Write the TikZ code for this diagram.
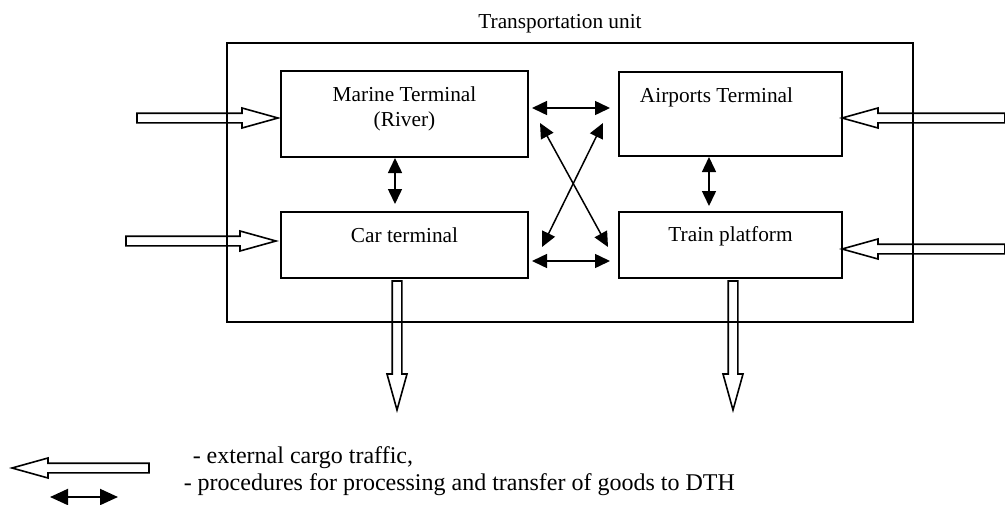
\documentclass[tikz,border=0pt]{standalone}
\usepackage{fontspec}
\setmainfont{Liberation Serif}
\usepackage{tikz}
\usetikzlibrary{calc,arrows.meta}

% wide hollow arrow from #1 to #2 (shaft, then open head)
\newcommand{\cargo}[2]{%
  \draw[cargo] let \p1=(#1), \p2=(#2),
    \n1={veclen(\x2-\x1,\y2-\y1)}, \n2={atan2(\y2-\y1,\x2-\x1)} in
    {[shift={(\p1)},rotate=\n2]
      (0pt,-2.4pt) -- (\n1-18pt,-2.4pt) -- (\n1-18pt,-5pt) -- (\n1,0pt)
      -- (\n1-18pt,5pt) -- (\n1-18pt,2.4pt) -- (0pt,2.4pt) -- cycle};
}

\begin{document}
\begin{tikzpicture}[x=0.5pt,y=-0.5pt,line width=0.75pt,
    font=\fontsize{10.66}{12.5}\selectfont,
    box/.style={draw,inner sep=0pt,outer sep=0pt},
    txt/.style={anchor=base,inner sep=0pt},
    link/.style={{Triangle[length=7.5pt,width=7pt]}-{Triangle[length=7.5pt,width=7pt]}},
    cargo/.style={draw,line width=0.8pt}]
    \useasboundingbox (0,0) rectangle (1005,504);

    % transportation unit and its four terminals
    \node[box,minimum width=343pt,minimum height=139.5pt] (unit) at (570,182.5) {};
    \node[txt] (title) at (560,28) {Transportation unit};
    \node[box,minimum width=123.5pt,minimum height=43pt] (marine) at (404.5,114) {};
    \node[box,minimum width=123.5pt,minimum height=33pt] (car) at (404.5,245) {};
    \node[box,minimum width=111.5pt,minimum height=42pt] (air) at (730.5,114) {};
    \node[box,minimum width=111.5pt,minimum height=33pt] (train) at (730.5,245) {};
    \node[txt] (marinetxt) at (404.5,101) {Marine Terminal};
    \node[txt] (rivertxt) at (404.5,126) {(River)};
    \node[txt] (cartxt) at (404.5,242) {Car terminal};
    \node[txt] (airtxt) at (716.5,102) {Airports Terminal};
    \node[txt] (traintxt) at (730.5,241) {Train platform};

    % transfer between terminals
    \draw[link] ([xshift=-4.75pt,yshift=-0.5pt]marine.south) -- ([xshift=-4.75pt,yshift=4pt]car.north);
    \draw[link] ([xshift=-10.75pt,yshift=-0.5pt]air.south) -- ([xshift=-10.75pt,yshift=3pt]train.north);
    \draw[link] ([xshift=2pt,yshift=3pt]marine.east) -- ([xshift=-4.5pt,yshift=3pt]air.west);
    \draw[link] ([xshift=2pt,yshift=-8pt]car.east) -- ([xshift=-4.5pt,yshift=-8pt]train.west);
    \draw[link] ([xshift=6pt,yshift=-4.5pt]marine.east) -- ([xshift=-5.5pt,yshift=-1pt]train.west);
    \draw[link] ([xshift=-8pt,yshift=-4.5pt]air.west) -- ([xshift=7pt,yshift=-1pt]car.east);

    % external traffic
    \coordinate (inmarine) at (137,118);
    \coordinate (incar) at (126,241);
    \coordinate (inair) at (1005,118);
    \coordinate (intrain) at (1005,249);
    \coordinate (outcar) at (397,410);
    \coordinate (outtrain) at (733,410);
    \cargo{inmarine}{[xshift=-1.5pt,yshift=-2pt]marine.west}
    \cargo{incar}{[xshift=-2.5pt,yshift=2pt]car.west}
    \cargo{inair}{[yshift=-2pt]air.east}
    \cargo{intrain}{[yshift=-2pt]train.east}
    \cargo{[xshift=-3.75pt,yshift=-1.5pt]car.south}{outcar}
    \cargo{[xshift=1.25pt,yshift=-1.5pt]train.south}{outtrain}

    % legend
    \coordinate (legtail) at (149,468);
    \coordinate (legtip) at (12,468);
    \coordinate (legl) at (50,497);
    \coordinate (legr) at (118,497);
    \cargo{legtail}{legtip}
    \draw[link,line width=1pt,{Triangle[length=9pt,width=8pt]}-{Triangle[length=9pt,width=8pt]}] (legl) -- (legr);
    \node[txt,anchor=base west,font=\fontsize{12}{14}\selectfont] (legcargo) at (192,463) {- external cargo traffic,};
    \node[txt,anchor=base west,font=\fontsize{12}{14}\selectfont] (leglink) at (183,490) {- procedures for processing and transfer of goods to DTH};
\end{tikzpicture}
\end{document}
